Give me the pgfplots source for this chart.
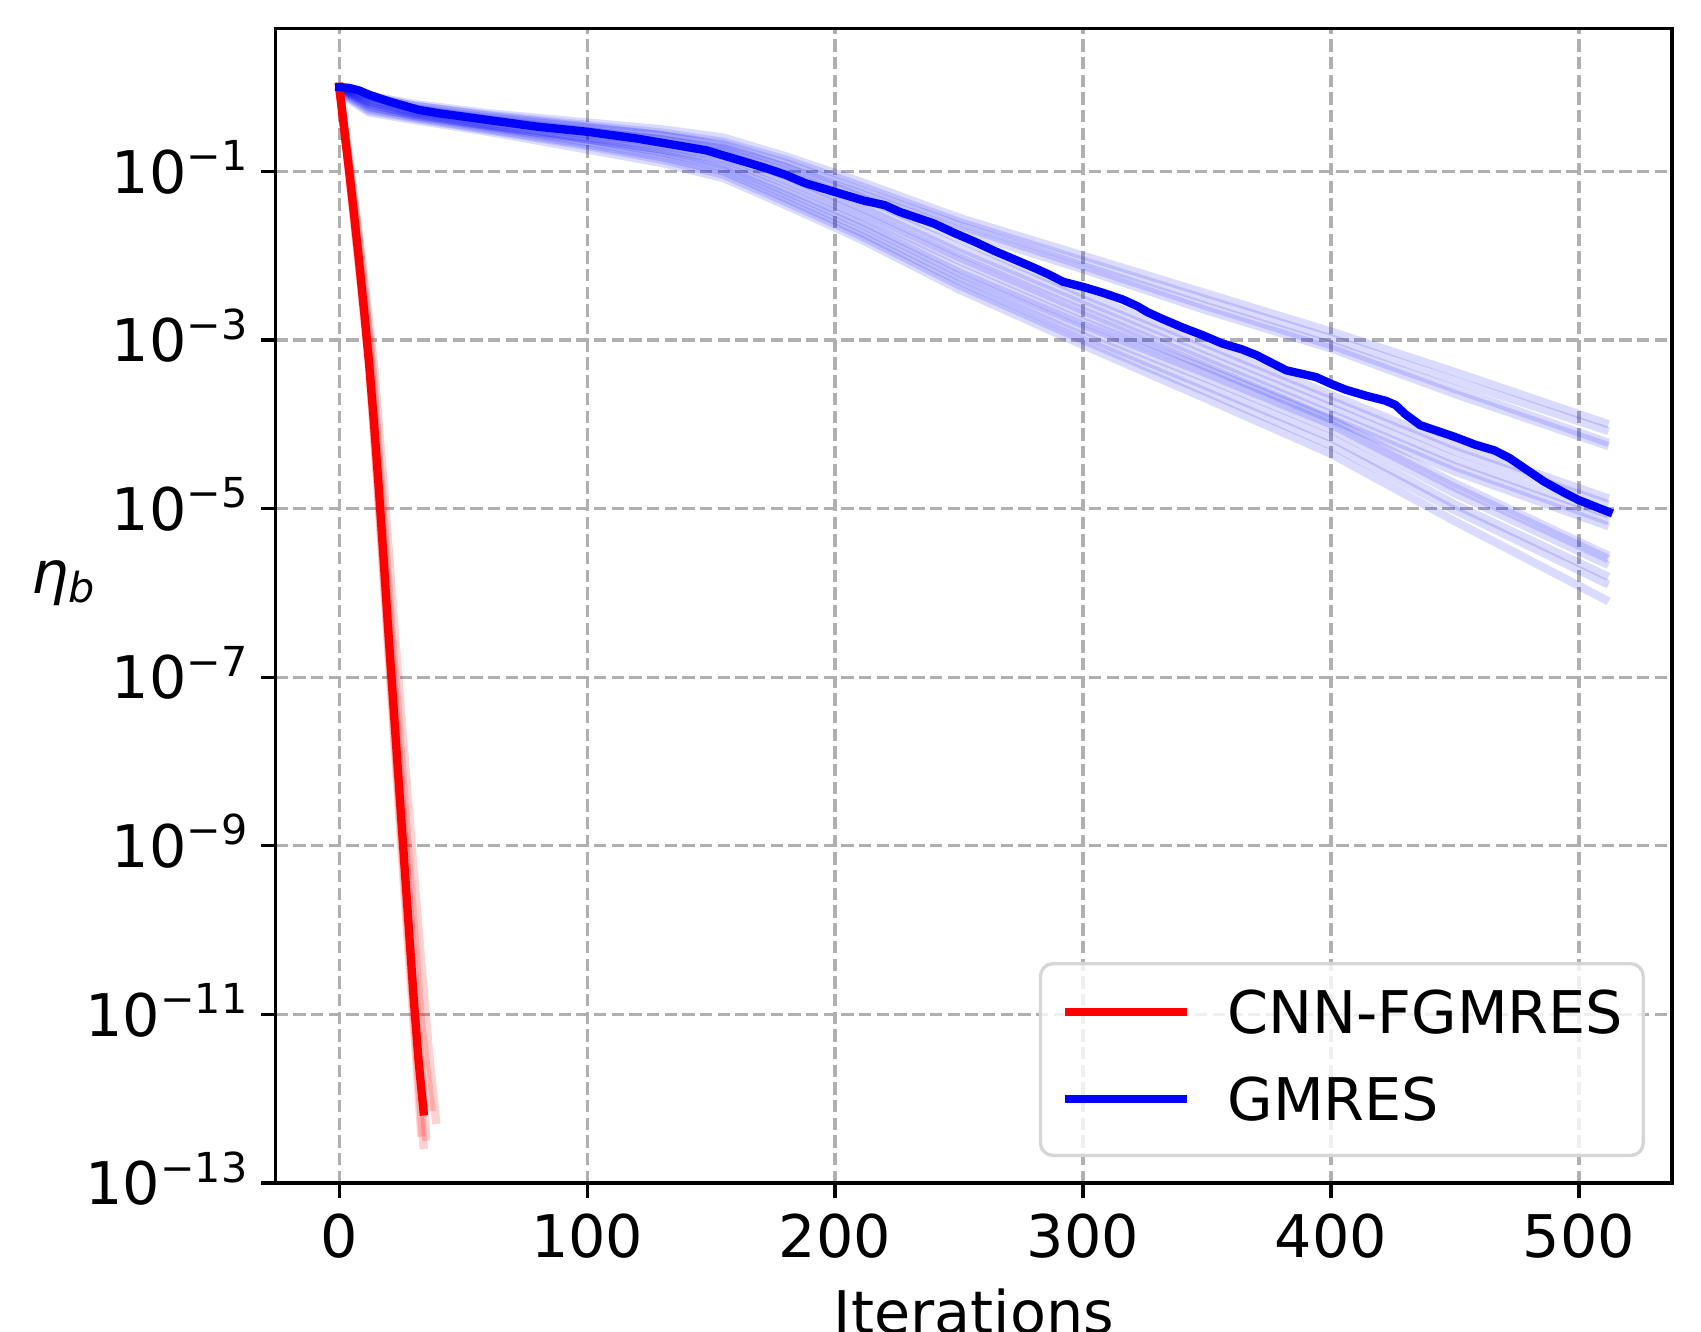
\documentclass[border=0pt]{standalone}
\usepackage{fontspec}
\setmainfont{DejaVu Sans}
\usepackage{pgfplots}
\usepackage{pgfplotstable}
\pgfplotsset{compat=1.18}

\definecolor{gridgray}{HTML}{B0B0B0}
\newcommand{\fs}{\fontsize{14.1}{16.9}\selectfont}
% power-of-ten tick label in the text font
\newcommand{\tl}[1]{10\raisebox{5.4pt}{\fontsize{9.9}{12}\selectfont −#1}}

% relative residual of the individual GMRES runs
\pgfplotstableread{
it  U1        U2        U3        U4        M1        M2        M3        M4        M5        L1        L2        L3        L4        L5        L6
0   1         1         1         1         1         1         1         1         1         1         1         1         1         1         1
4   9.333e-1  9.120e-1  8.913e-1  8.710e-1  9.333e-1  8.913e-1  8.511e-1  8.318e-1  7.943e-1  8.710e-1  8.318e-1  7.943e-1  7.586e-1  7.413e-1  7.079e-1
12  7.943e-1  7.586e-1  7.244e-1  6.761e-1  7.762e-1  7.079e-1  6.607e-1  6.310e-1  5.754e-1  6.761e-1  6.310e-1  5.888e-1  5.495e-1  5.248e-1  5.012e-1
30  6.310e-1  6.026e-1  5.623e-1  5.248e-1  6.026e-1  5.495e-1  5.129e-1  4.786e-1  4.571e-1  5.012e-1  4.786e-1  4.571e-1  4.365e-1  4.266e-1  4.074e-1
60  4.898e-1  4.677e-1  4.365e-1  3.981e-1  4.571e-1  4.169e-1  3.802e-1  3.548e-1  3.467e-1  3.631e-1  3.467e-1  3.311e-1  3.162e-1  3.090e-1  2.951e-1
100 3.802e-1  3.548e-1  3.311e-1  3.020e-1  3.388e-1  3.020e-1  2.754e-1  2.512e-1  2.399e-1  2.512e-1  2.399e-1  2.239e-1  2.089e-1  1.995e-1  1.820e-1
130 3.162e-1  2.884e-1  2.692e-1  2.399e-1  2.692e-1  2.399e-1  2.188e-1  1.995e-1  1.820e-1  1.820e-1  1.698e-1  1.585e-1  1.479e-1  1.380e-1  1.259e-1
155 2.512e-1  2.239e-1  2.089e-1  1.862e-1  1.995e-1  1.778e-1  1.660e-1  1.514e-1  1.380e-1  1.259e-1  1.175e-1  1.072e-1  1.000e-1  9.120e-2  8.318e-2
180 1.514e-1  1.380e-1  1.259e-1  1.122e-1  1.122e-1  1.000e-1  8.913e-2  7.943e-2  7.244e-2  6.310e-2  5.754e-2  5.248e-2  4.786e-2  4.365e-2  3.981e-2
210 7.586e-2  6.761e-2  6.026e-2  5.495e-2  5.012e-2  4.365e-2  3.802e-2  3.388e-2  3.020e-2  2.630e-2  2.399e-2  2.138e-2  1.905e-2  1.738e-2  1.585e-2
250 2.818e-2  2.512e-2  2.291e-2  1.995e-2  1.585e-2  1.259e-2  1.096e-2  9.550e-3  8.710e-3  7.079e-3  6.310e-3  5.623e-3  5.012e-3  4.467e-3  3.981e-3
300 1.000e-2  8.710e-3  7.586e-3  6.918e-3  3.548e-3  3.020e-3  2.630e-3  2.239e-3  1.995e-3  1.660e-3  1.514e-3  1.318e-3  1.122e-3  1.000e-3  8.710e-4
350 3.548e-3  3.020e-3  2.512e-3  2.239e-3  8.913e-4  7.586e-4  6.310e-4  5.495e-4  4.786e-4  4.467e-4  3.981e-4  3.467e-4  2.818e-4  2.399e-4  1.995e-4
400 1.259e-3  1.047e-3  8.710e-4  7.943e-4  2.239e-4  1.905e-4  1.585e-4  1.318e-4  1.148e-4  1.122e-4  1.000e-4  8.710e-5  6.918e-5  5.623e-5  4.467e-5
450 4.169e-4  3.311e-4  2.630e-4  2.291e-4  5.623e-5  4.786e-5  3.802e-5  3.162e-5  2.754e-5  1.995e-5  1.778e-5  1.514e-5  1.122e-5  9.550e-6  7.079e-6
512 1.000e-4  8.318e-5  6.026e-5  5.495e-5  1.318e-5  1.122e-5  8.511e-6  7.079e-6  6.166e-6  2.754e-6  2.512e-6  2.138e-6  1.549e-6  1.259e-6  7.943e-7
}\blueruns

% highlighted GMRES run
\pgfplotstableread{
it  eta
0   1.0
4   9.772e-1
8   9.120e-1
12  8.128e-1
16  7.413e-1
20  6.761e-1
26  6.026e-1
32  5.370e-1
40  4.898e-1
50  4.467e-1
60  4.074e-1
70  3.715e-1
80  3.388e-1
90  3.162e-1
100 2.951e-1
110 2.692e-1
120 2.455e-1
130 2.188e-1
140 1.950e-1
148 1.778e-1
156 1.514e-1
164 1.288e-1
172 1.096e-1
180 9.120e-2
188 7.244e-2
196 6.166e-2
204 5.248e-2
212 4.467e-2
220 3.981e-2
226 3.311e-2
232 2.884e-2
240 2.399e-2
248 1.862e-2
256 1.479e-2
264 1.148e-2
272 9.120e-3
280 7.244e-3
286 6.026e-3
292 4.898e-3
300 4.266e-3
308 3.631e-3
316 3.020e-3
322 2.512e-3
326 2.138e-3
332 1.778e-3
340 1.413e-3
348 1.148e-3
356 9.120e-4
364 7.762e-4
370 6.607e-4
376 5.370e-4
382 4.365e-4
388 3.981e-4
394 3.631e-4
400 3.020e-4
406 2.570e-4
414 2.188e-4
422 1.905e-4
426 1.698e-4
430 1.318e-4
436 9.772e-5
442 8.511e-5
450 7.079e-5
458 5.754e-5
466 4.898e-5
472 3.981e-5
478 3.020e-5
486 2.089e-5
494 1.549e-5
500 1.259e-5
506 1.072e-5
512 9.120e-6
}\gmres

% highlighted CNN-FGMRES run
\pgfplotstableread{
it  eta
0   1.0
2   3.162e-1
4   1.000e-1
6   3.020e-2
8   8.511e-3
10  2.239e-3
12  5.370e-4
14  1.047e-4
16  1.660e-5
18  2.239e-6
20  2.818e-7
22  3.981e-8
24  5.623e-9
26  7.943e-10
28  1.122e-10
30  1.585e-11
32  2.818e-12
34  7.079e-13
}\cnn

\begin{document}
\begin{tikzpicture}
\begin{axis}[
  scale only axis,
  width=334.9pt, height=276.9pt,
  xmin=-25.6, xmax=537.6,
  ymode=log, ymin=1e-13, ymax=4.95,
  xtick={0,100,200,300,400,500},
  ytick={1e-13,1e-11,1e-9,1e-7,1e-5,1e-3,1e-1},
  yticklabels={\tl{13},\tl{11},\tl{9},\tl{7},\tl{5},\tl{3},\tl{1}},
  xminorticks=false, yminorticks=false,
  xtick pos=bottom, ytick pos=left,
  line width=0.8pt,
  tick align=outside, major tick length=3.5pt,
  tick style={black, line width=0.8pt},
  grid=major,
  major grid style={gridgray, line width=0.8pt, dash pattern=on 2.96pt off 1.28pt},
  tick label style={font=\fs},
  /pgf/number format/assume math mode=true,
  xticklabel style={anchor=north, inner sep=0pt, yshift=-3.6pt},
  yticklabel style={anchor=base east, inner sep=0pt, yshift=-5.2pt, xshift=-2.9pt},
  xlabel={Iterations},
  xlabel style={at={(axis description cs:0.5,0)}, anchor=base, yshift=-36.1pt, inner sep=0pt, font=\fs},
  ylabel={{\itshape η}\raisebox{-2.2pt}{\fontsize{9.9}{12}\selectfont\itshape b}},
  ylabel style={rotate=-90, at={(axis description cs:0,0)}, anchor=base west, xshift=-59pt, yshift=141.4pt, inner sep=0pt, font=\fs},
  legend cell align=left,
  legend image code/.code={\draw[#1, line cap=butt] (0pt,5.1pt) -- (29.4pt,5.1pt);},
  legend style={at={(1,0)}, anchor=south east, xshift=-6.5pt, yshift=6.2pt,
    draw=gray!32, line width=0.8pt, rounded corners=3pt,
    fill=white, fill opacity=0.8, text opacity=1,
    inner xsep=4.8pt, inner ysep=6.4pt, row sep=8.4pt, column sep=8.7pt,
    font=\fs, nodes={inner sep=0pt, text height=10.3pt, text depth=2.1pt},
    cells={anchor=base west}},
]
\coordinate (bl) at (rel axis cs:0,0);
\coordinate (tr) at (rel axis cs:1,1);

% individual GMRES runs
\pgfplotsinvokeforeach{U1,U2,U3,U4,M1,M2,M3,M4,M5,L1,L2,L3,L4,L5,L6}{
  \addplot[blue, line width=2pt, draw opacity=0.14, line join=round, forget plot] table[x=it, y=#1] {\blueruns};
}

% individual CNN-FGMRES runs
\addplot[red, line width=2pt, draw opacity=0.18, line cap=rect, forget plot] coordinates {
 (0,1) (5,7.943e-2) (9,1.000e-2) (14,5.012e-4) (18,1.778e-5) (23,1.995e-7) (27,6.310e-9) (32,1.000e-10) (36,3.981e-12) (39,5.623e-13)};
\addplot[red, line width=2pt, draw opacity=0.18, line cap=rect, forget plot] coordinates {
 (0,1) (4,8.913e-2) (8,7.079e-3) (12,5.012e-4) (16,1.000e-5) (20,1.585e-7) (24,2.818e-9) (28,5.012e-11) (31,3.162e-12) (33,3.981e-13)};
\addplot[red, line width=2pt, draw opacity=0.18, line cap=rect, forget plot] coordinates {
 (0,1) (4,1.122e-1) (8,1.000e-2) (12,8.913e-4) (16,2.512e-5) (20,5.012e-7) (24,1.122e-8) (28,2.512e-10) (32,6.310e-12) (35,3.548e-13)};
\addplot[red, line width=2pt, draw opacity=0.18, line cap=rect, forget plot] coordinates {
 (0,1) (4,1.259e-1) (9,7.943e-3) (13,6.310e-4) (17,1.778e-5) (21,3.981e-7) (25,1.122e-8) (29,2.818e-10) (33,7.943e-12) (37,7.943e-13)};
\addplot[red, line width=2pt, draw opacity=0.18, line cap=rect, forget plot] coordinates {
 (0,1) (4,1.000e-1) (8,7.943e-3) (12,6.310e-4) (16,1.259e-5) (20,2.239e-7) (24,3.981e-9) (28,7.943e-11) (32,1.778e-12) (34,2.818e-13)};

\addplot[red, line width=2pt, line cap=rect, line join=round] table[x=it, y=eta] {\cnn};
\addlegendentry{CNN-FGMRES}
\addplot[blue, line width=2pt, line cap=rect, line join=round] table[x=it, y=eta] {\gmres};
\addlegendentry{GMRES}
\end{axis}
\pgfresetboundingbox
\useasboundingbox ([shift={(-66.15pt,-35.74pt)}]bl) rectangle ([shift={(6.95pt,6.84pt)}]tr);
\end{tikzpicture}
\end{document}
